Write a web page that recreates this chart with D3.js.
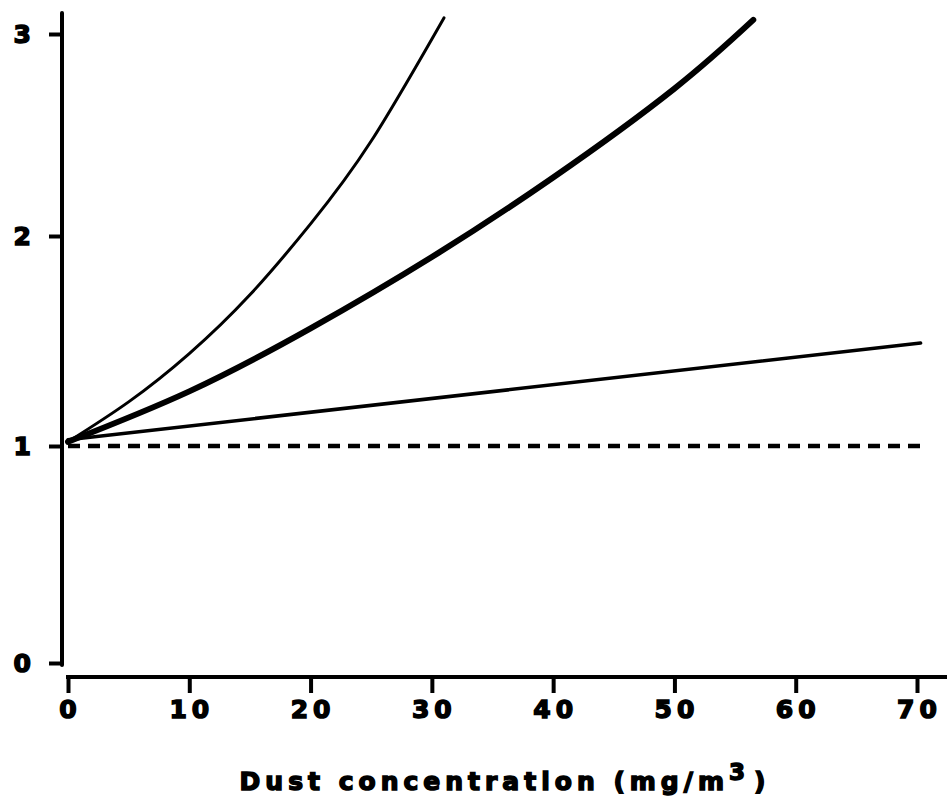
<!DOCTYPE html>
<html>
<head>
<meta charset="utf-8">
<script src="https://cdn.jsdelivr.net/npm/d3@7"></script>
<style>
  html, body { margin: 0; padding: 0; background: #fff; }
  svg text { font-family: "DejaVu Sans", "Liberation Sans", sans-serif; font-weight: bold; fill: #000; }
</style>
</head>
<body>
<svg width="947" height="801"></svg>
<script>
// x ticks and y ticks
var xTicks = [0, 10, 20, 30, 40, 50, 60, 70];
var yTicks = [0, 1, 2, 3];

// curves (dust in mg/m3, relative value)
var steepX = [0, 5, 10, 15, 20, 25, 31];
var steepY = [1.02, 1.21, 1.44, 1.72, 2.06, 2.47, 3.08];

var thickX = [0, 10, 20, 30, 40, 50, 56.5];
var thickY = [1.02, 1.26, 1.56, 1.90, 2.29, 2.73, 3.07];

var flatX = [0, 70.3];
var flatY = [1.03, 1.49];

var refX = [0, 70.3];
var refY = [1.0, 1.0];

var svg = d3.select("svg"),
    width = +svg.attr("width"),
    height = +svg.attr("height");

// set the ranges
var x = d3.scaleLinear().domain([0, 70]).range([68, 917]);
var y = d3.scaleLinear().domain(yTicks).range([663, 446, 236, 34]);

function pts(xs, ys) {
  return xs.map(function(d, i) { return {x: d, y: ys[i]}; });
}

var line = d3.line()
    .x(function(d) { return x(d.x); })
    .y(function(d) { return y(d.y); })
    .curve(d3.curveNatural);

// x axis
var gx = svg.append("g")
    .attr("transform", "translate(0,677)")
    .call(d3.axisBottom(x).tickValues(xTicks).tickSize(16).tickSizeOuter(0).tickPadding(7));
gx.select(".domain").remove();
gx.selectAll(".tick line").attr("stroke", "#000").attr("stroke-width", 4);
gx.selectAll(".tick text")
    .attr("font-size", 25)
    .attr("font-family", null)
    .attr("letter-spacing", 5)
    .attr("dx", 2)
    .attr("stroke", "#000")
    .attr("stroke-width", 1.5);
gx.append("line")
    .attr("x1", x(0) - 2).attr("x2", width)
    .attr("y1", 0).attr("y2", 0)
    .attr("stroke", "#000").attr("stroke-width", 4);

// y axis
var gy = svg.append("g")
    .attr("transform", "translate(62,0)")
    .call(d3.axisLeft(y).tickValues(yTicks).tickFormat(d3.format("d"))
      .tickSize(13).tickSizeOuter(0).tickPadding(18));
gy.select(".domain").remove();
gy.selectAll(".tick line").attr("stroke", "#000").attr("stroke-width", 4);
gy.selectAll(".tick text")
    .attr("font-size", 25)
    .attr("font-family", null)
    .attr("stroke", "#000")
    .attr("stroke-width", 1.5);
gy.append("line")
    .attr("x1", 0).attr("x2", 0)
    .attr("y1", y(0) + 2).attr("y2", 13)
    .attr("stroke", "#000").attr("stroke-width", 4)
    .attr("stroke-linecap", "round");

// dashed reference line
svg.append("path")
    .datum(pts(refX, refY))
    .attr("fill", "none")
    .attr("stroke", "#000")
    .attr("stroke-width", 4.5)
    .attr("stroke-dasharray", "12,8")
    .attr("d", line);

// the three curves
svg.append("path")
    .datum(pts(flatX, flatY))
    .attr("fill", "none")
    .attr("stroke", "#000")
    .attr("stroke-width", 3.5)
    .attr("stroke-linecap", "round")
    .attr("d", line);

svg.append("path")
    .datum(pts(thickX, thickY))
    .attr("fill", "none")
    .attr("stroke", "#000")
    .attr("stroke-width", 6)
    .attr("stroke-linecap", "round")
    .attr("d", line);

svg.append("path")
    .datum(pts(steepX, steepY))
    .attr("fill", "none")
    .attr("stroke", "#000")
    .attr("stroke-width", 3)
    .attr("stroke-linecap", "round")
    .attr("d", line);

// axis title
var title = svg.append("text")
    .attr("x", 505)
    .attr("y", 790)
    .attr("text-anchor", "middle")
    .attr("font-size", 25)
    .attr("letter-spacing", 5)
    .attr("stroke", "#000")
    .attr("stroke-width", 1.5);
title.append("tspan").text("Dust concentration (mg/m");
title.append("tspan").attr("dy", -10).attr("font-size", 23).text("3");
title.append("tspan").attr("dy", 10).attr("dx", 4).text(")");
</script>
</body>
</html>
